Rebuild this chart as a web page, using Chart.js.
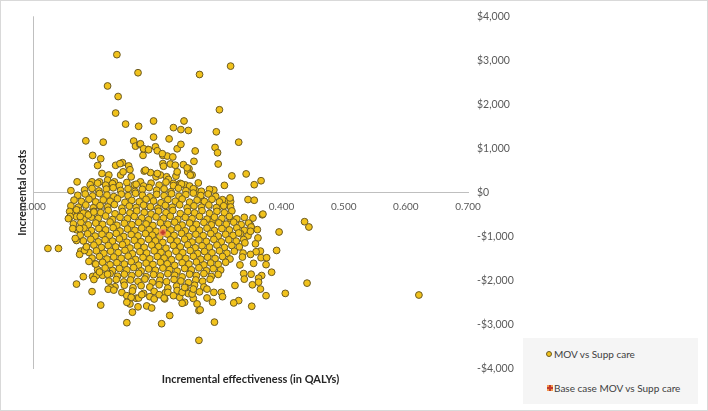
<!DOCTYPE html>
<html lang="en">
<head>
<meta charset="UTF-8">
<title>Incremental cost-effectiveness plane</title>
<script src="https://cdn.jsdelivr.net/npm/chart.js@4.4.1/dist/chart.umd.min.js"></script>
<style>
  html, body { margin: 0; padding: 0; background: #fff; }
  #frame { position: relative; width: 708px; height: 411px; box-sizing: border-box; border: 1px solid #d9d9d9; background: #fff; }
  #chart { position: absolute; left: 0; top: 0; }
  #legend { position: absolute; left: 522px; top: 337px; width: 175px; height: 66px; background: #f5f5f5;
            font: 10px Lato, sans-serif; color: #404040; }
  #legend .item { position: absolute; left: 0; height: 14px; line-height: 14px; white-space: nowrap; }
  #legend .mark { position: absolute; top: 4px; width: 6px; height: 6px; box-sizing: border-box; }
  #legend .text { position: absolute; left: 31px; top: 0; }
</style>
</head>
<body>
<div id="frame">
  <canvas id="chart" width="706" height="409"></canvas>
  <div id="legend"></div>
</div>
<script>
// axis ticks
const xTickVals = [0, 0.1, 0.2, 0.3, 0.4, 0.5, 0.6, 0.7];
const yTickVals = [-4000, -3000, -2000, -1000, 0, 1000, 2000, 3000, 4000];

const seriesNames = ["MOV vs Supp care", "Base case MOV vs Supp care"];

// PSA iterations: [incremental QALYs, incremental cost]
const upperPts = [
  [0.135,3130],[0.169,2720],[0.268,2680],[0.318,2870],[0.120,2420],[0.137,2180],[0.133,1805],[0.300,1880],
  [0.149,1555],[0.170,1505],[0.194,1625],[0.243,1625],[0.226,1475],[0.238,1430],[0.250,1410],[0.295,1380],
  [0.331,1145],[0.194,1260],[0.219,1220],[0.085,1175],[0.113,1145],[0.162,1170],[0.165,1055],[0.172,1095],
  [0.185,980],[0.179,965],[0.197,1040],[0.200,950],[0.232,995],[0.238,1095],[0.261,945],[0.293,1025],
  [0.297,905],[0.298,650],[0.320,380],[0.308,165],[0.291,60],[0.096,845],[0.109,770],[0.104,615],
  [0.111,435],[0.122,400],[0.133,620],[0.144,680],[0.154,605],[0.177,845],[0.209,845],[0.216,830],
  [0.225,810],[0.209,660],[0.221,650],[0.242,635],[0.251,545],[0.259,710],[0.071,245],[0.061,45],
  [0.095,245],[0.107,245],[0.118,150],[0.131,245],[0.141,400],[0.158,360],[0.179,490],[0.163,175],
  [0.173,245],[0.189,455],[0.198,360],[0.205,400],[0.215,360],[0.230,375],[0.237,210],[0.249,470],
  [0.256,400],[0.245,175],[0.261,60],[0.343,425],[0.356,180],[0.367,270],
  [0.120,285],[0.140,658],[0.145,472],[0.156,520],[0.173,1108],[0.178,996],[0.186,973],[0.208,884],
  [0.210,600],[0.229,622],[0.232,472],[0.248,562],[0.253,398],[0.181,510],[0.200,434],[0.218,300],
  [0.226,209],[0.267,-52],[0.272,-165],[0.288,-636],[0.299,-315],[0.310,-202],[0.318,-202],[0.317,-577],
  [0.317,-120],[0.305,-160],[0.346,-157],[0.356,-172],[0.354,-577],[0.369,-502],[0.350,-742],[0.370,-487]
];

const corePts = [
  [0.092,180],[0.104,215],[0.117,170],[0.128,205],[0.139,160],[0.151,230],[0.166,190],[0.178,150],[0.190,215],[0.203,170],[0.214,240],[0.226,160],[0.239,195],[0.252,150],[0.266,220],
  [0.083,60],[0.095,95],[0.106,40],[0.118,80],[0.129,110],[0.141,50],[0.153,90],[0.164,30],[0.176,75],[0.187,115],[0.199,55],[0.211,85],[0.222,20],[0.234,100],[0.246,45],[0.258,90],[0.271,30],[0.284,75],
  [0.072,-60],[0.084,-30],[0.096,-75],[0.107,-20],[0.119,-55],[0.130,-90],[0.142,-35],[0.153,-70],[0.165,-15],[0.176,-60],[0.188,-95],[0.199,-40],[0.211,-70],[0.223,-25],[0.235,-80],[0.246,-45],[0.258,-10],[0.270,-65],[0.282,-30],[0.294,-85],
  [0.066,-170],[0.078,-200],[0.090,-150],[0.101,-210],[0.113,-165],[0.124,-195],[0.136,-140],[0.148,-220],[0.159,-175],[0.171,-205],[0.182,-150],[0.194,-190],[0.206,-230],[0.217,-160],[0.229,-195],[0.240,-145],[0.252,-215],[0.264,-170],[0.276,-200],[0.288,-150],[0.300,-210],
  [0.061,-300],[0.073,-330],[0.085,-280],[0.097,-345],[0.108,-295],[0.120,-325],[0.131,-270],[0.143,-350],[0.155,-305],[0.166,-335],[0.178,-285],[0.189,-320],[0.201,-355],[0.213,-290],[0.224,-330],[0.236,-275],[0.248,-345],[0.259,-300],[0.271,-330],[0.283,-280],[0.295,-340],[0.307,-300],[0.318,-325],
  [0.062,-445],[0.074,-410],[0.086,-470],[0.098,-425],[0.109,-455],[0.121,-400],[0.132,-480],[0.144,-430],[0.156,-460],[0.167,-415],[0.179,-450],[0.190,-485],[0.202,-420],[0.214,-455],[0.225,-405],[0.237,-475],[0.249,-430],[0.260,-460],[0.272,-410],[0.284,-470],[0.296,-425],[0.308,-455],[0.320,-415],
  [0.058,-580],[0.070,-545],[0.082,-600],[0.094,-555],[0.105,-585],[0.117,-530],[0.128,-610],[0.140,-560],[0.152,-590],[0.163,-540],[0.175,-575],[0.186,-615],[0.198,-550],[0.210,-580],[0.221,-535],[0.233,-605],[0.245,-560],[0.256,-590],[0.268,-540],[0.280,-600],[0.292,-555],[0.304,-585],[0.316,-540],[0.328,-595],[0.340,-560],
  [0.065,-710],[0.077,-680],[0.089,-730],[0.101,-690],[0.112,-720],[0.124,-665],[0.135,-740],[0.147,-695],[0.159,-725],[0.170,-675],[0.182,-710],[0.193,-745],[0.205,-685],[0.217,-715],[0.228,-670],[0.240,-735],[0.252,-690],[0.263,-720],[0.275,-675],[0.287,-730],[0.299,-685],[0.311,-715],[0.323,-670],[0.335,-725],[0.347,-690],
  [0.070,-840],[0.082,-805],[0.094,-860],[0.106,-815],[0.117,-845],[0.129,-795],[0.140,-870],[0.152,-825],[0.164,-855],[0.175,-805],[0.187,-840],[0.198,-875],[0.210,-815],[0.222,-845],[0.233,-800],[0.245,-865],[0.257,-820],[0.268,-850],[0.280,-805],[0.292,-860],[0.304,-815],[0.316,-845],[0.328,-800],[0.340,-855],[0.352,-820],
  [0.076,-965],[0.088,-935],[0.100,-985],[0.111,-945],[0.123,-975],[0.134,-925],[0.146,-995],[0.158,-950],[0.169,-980],[0.181,-930],[0.192,-965],[0.204,-1000],[0.216,-940],[0.227,-970],[0.239,-925],[0.251,-990],[0.262,-945],[0.274,-975],[0.286,-930],[0.298,-985],[0.310,-945],[0.322,-970],[0.334,-930],[0.346,-980],
  [0.081,-1095],[0.093,-1060],[0.105,-1115],[0.116,-1070],[0.128,-1100],[0.139,-1050],[0.151,-1125],[0.163,-1080],[0.174,-1110],[0.186,-1060],[0.197,-1095],[0.209,-1130],[0.221,-1070],[0.232,-1100],[0.244,-1055],[0.256,-1120],[0.267,-1075],[0.279,-1105],[0.291,-1060],[0.303,-1115],[0.315,-1070],[0.327,-1100],[0.339,-1065],
  [0.086,-1225],[0.098,-1190],[0.110,-1245],[0.121,-1200],[0.133,-1230],[0.144,-1180],[0.156,-1255],[0.168,-1210],[0.179,-1240],[0.191,-1190],[0.202,-1225],[0.214,-1260],[0.226,-1200],[0.237,-1230],[0.249,-1185],[0.261,-1250],[0.272,-1205],[0.284,-1235],[0.296,-1190],[0.308,-1245],[0.320,-1200],[0.332,-1230],
  [0.090,-1355],[0.102,-1320],[0.114,-1375],[0.125,-1330],[0.137,-1360],[0.148,-1310],[0.160,-1385],[0.172,-1340],[0.183,-1370],[0.195,-1320],[0.206,-1355],[0.218,-1390],[0.230,-1330],[0.241,-1360],[0.253,-1315],[0.265,-1380],[0.276,-1335],[0.288,-1365],[0.300,-1320],[0.312,-1375],[0.324,-1330],
  [0.095,-1485],[0.107,-1450],[0.119,-1505],[0.130,-1460],[0.142,-1490],[0.153,-1440],[0.165,-1515],[0.177,-1470],[0.188,-1500],[0.200,-1450],[0.211,-1485],[0.223,-1520],[0.235,-1460],[0.246,-1490],[0.258,-1445],[0.270,-1510],[0.281,-1465],[0.293,-1495],[0.305,-1450],[0.317,-1505],
  [0.100,-1615],[0.112,-1580],[0.124,-1635],[0.135,-1590],[0.147,-1620],[0.158,-1570],[0.170,-1645],[0.182,-1600],[0.193,-1630],[0.205,-1580],[0.216,-1615],[0.228,-1650],[0.240,-1590],[0.251,-1620],[0.263,-1575],[0.275,-1640],[0.286,-1595],[0.298,-1625],[0.310,-1580],
  [0.104,-1745],[0.116,-1710],[0.128,-1765],[0.139,-1720],[0.151,-1750],[0.162,-1700],[0.174,-1775],[0.186,-1730],[0.197,-1760],[0.209,-1710],[0.220,-1745],[0.232,-1780],[0.244,-1720],[0.255,-1750],[0.267,-1705],[0.279,-1770],[0.290,-1725],[0.302,-1755],
  [0.112,-1875],[0.124,-1840],[0.136,-1895],[0.147,-1850],[0.159,-1880],[0.170,-1830],[0.182,-1905],[0.194,-1860],[0.205,-1890],[0.217,-1840],[0.228,-1875],[0.240,-1910],[0.252,-1850],[0.263,-1880],[0.275,-1835],[0.287,-1900],[0.298,-1855],
  [0.122,-2005],[0.134,-1970],[0.146,-2025],[0.157,-1980],[0.169,-2010],[0.180,-1960],[0.192,-2035],[0.204,-1990],[0.215,-2020],[0.227,-1970],[0.238,-2005],[0.250,-2040],[0.262,-1980],[0.273,-2010],[0.285,-1965],
  [0.132,-2135],[0.147,-2100],[0.161,-2155],[0.174,-2110],[0.188,-2140],[0.203,-2090],[0.217,-2165],[0.231,-2120],[0.246,-2150],[0.260,-2100],[0.275,-2140],
  [0.143,-2265],[0.160,-2230],[0.178,-2285],[0.195,-2240],[0.213,-2270],[0.232,-2220],[0.250,-2290],[0.268,-2250],
  [0.166,-2395],[0.188,-2360],[0.212,-2410],[0.236,-2375],[0.258,-2400]
];

const rightPts = [
  [0.437,-659],[0.444,-779],[0.351,-779],[0.361,-839],[0.350,-876],[0.331,-914],[0.396,-892],[0.362,-1027],
  [0.341,-1139],[0.358,-1161],[0.392,-1311],[0.366,-1326],[0.359,-1341],[0.338,-1371],[0.350,-1401],
  [0.367,-1476],[0.376,-1476],[0.337,-1461],[0.355,-1603],[0.333,-1640],[0.375,-1633],[0.384,-1805],
  [0.339,-1835],[0.351,-1850],[0.368,-1880],[0.363,-1940],[0.340,-1962],[0.363,-2030],[0.441,-2052],
  [0.353,-2090],[0.325,-2105],[0.366,-2187],[0.406,-2285],[0.375,-2337],[0.621,-2322],[0.331,-2449],
  [0.323,-2501],[0.352,-2577]
];

const lowerPts = [
  [0.024,-1265],[0.041,-1265],[0.070,-2074],[0.081,-1905],[0.095,-2245],[0.109,-2550],[0.151,-2950],
  [0.207,-2973],[0.220,-2786],[0.160,-2712],[0.183,-2570],[0.191,-2615],[0.169,-2590],[0.156,-2524],
  [0.267,-3350],[0.292,-2937],[0.267,-2674],[0.244,-2487],[0.240,-2509],[0.289,-2487],[0.280,-2389],
  [0.059,-427],[0.060,-540],[0.057,-590],[0.064,-816],[0.075,-816],[0.070,-1085],[0.068,-1040],
  [0.077,-1326],[0.075,-1400],[0.083,-1310],[0.086,-1230],[0.090,-1560],[0.101,-1620],[0.096,-1900],
  [0.102,-1880],[0.098,-1970],[0.107,-1800],[0.120,-1850],[0.125,-2160],[0.121,-2190],[0.130,-2210],
  [0.151,-2337],[0.158,-2375],[0.151,-2487],[0.170,-2390],[0.175,-2315],[0.195,-2412],[0.203,-2315],
  [0.211,-2390],[0.217,-2262],[0.226,-2337],[0.240,-2262],[0.244,-2150],[0.256,-2300],[0.258,-2187],
  [0.264,-2524],[0.269,-2659],[0.280,-2187],[0.291,-2262],[0.303,-2262],[0.305,-2360],
  [0.070,-390],[0.081,-465],[0.076,-540],[0.089,-505],[0.098,-440]
];

const basePt = [[0.209, -905]];

const toXY = arr => arr.map(p => ({x: p[0], y: p[1]}));
const movPoints = toXY(upperPts.concat(corePts, rightPts, lowerPts));

function plusSquare(size, fill, stroke) {
  const c = document.createElement('canvas');
  c.width = size; c.height = size;
  const g = c.getContext('2d');
  g.fillStyle = fill;
  g.fillRect(0, 0, size, size);
  g.strokeStyle = stroke;
  g.lineWidth = 2;
  g.beginPath();
  g.moveTo(size / 2, 1); g.lineTo(size / 2, size - 1);
  g.moveTo(1, size / 2); g.lineTo(size - 1, size / 2);
  g.stroke();
  return c;
}

const FONT = "Lato, 'Liberation Sans', sans-serif";
const axisColor = '#bfbfbf';
const tickColor = '#595959';

function money(v) {
  const s = '$' + Math.abs(v).toLocaleString('en-US');
  return v < 0 ? '-' + s : s;
}

const chart = new Chart(document.getElementById('chart'), {
  type: 'scatter',
  data: {
    datasets: [
      {
        label: seriesNames[0],
        data: movPoints,
        backgroundColor: '#f1c21b',
        borderColor: '#6b5a24',
        borderWidth: 1,
        pointRadius: 3.4,
        order: 1
      },
      {
        label: seriesNames[1],
        data: toXY(basePt),
        pointStyle: plusSquare(7, '#f39a4e', '#c0392b'),
        backgroundColor: '#f39a4e',
        borderColor: '#c0392b',
        order: 0
      }
    ]
  },
  options: {
    responsive: false,
    animation: false,
    events: [],
    layout: { padding: { left: 10, right: 189, top: 12.3, bottom: 0 } },
    plugins: { legend: { display: false }, tooltip: { enabled: false } },
    scales: {
      x: {
        type: 'linear',
        position: { y: 0 },
        min: 0, max: 0.7,
        afterBuildTicks: s => { s.ticks = xTickVals.map(v => ({value: v})); },
        ticks: {
          callback: v => Number(v).toFixed(3),
          color: tickColor, font: { family: FONT, size: 10 }, padding: 8,
          maxRotation: 0, autoSkip: false
        },
        grid: {
          drawTicks: false,
          color: c => (c.tick && c.tick.value === 0) ? axisColor : 'rgba(0,0,0,0)'
        },
        border: { display: true, color: axisColor, width: 1 }
      },
      y: {
        type: 'linear',
        position: 'right',
        min: -4000, max: 4000,
        afterBuildTicks: s => { s.ticks = yTickVals.map(v => ({value: v})); },
        afterFit: s => { s.width = 50; },
        ticks: {
          callback: v => money(v),
          color: tickColor, font: { family: FONT, size: 10.5 }, padding: 9
        },
        grid: { display: false, drawTicks: false },
        border: { display: false }
      },
      yTitle: {
        type: 'linear',
        axis: 'y',
        position: 'left',
        afterFit: s => { s.width = 22; },
        ticks: { display: false },
        grid: { display: false, drawTicks: false },
        border: { display: false },
        title: {
          display: true, text: 'Incremental costs', color: '#262626',
          font: { family: FONT, size: 11, weight: 'bold' }, padding: { top: 5, bottom: 0 }
        }
      },
      xTitle: {
        type: 'linear',
        axis: 'x',
        position: 'bottom',
        afterFit: s => { s.height = 41; },
        ticks: { display: false },
        grid: { display: false, drawTicks: false },
        border: { display: false },
        title: {
          display: true, text: 'Incremental effectiveness (in QALYs)', color: '#262626',
          font: { family: FONT, size: 11, weight: 'bold' }, padding: { top: 4, bottom: 24 }
        }
      }
    }
  }
});

// legend box (bottom right), built from the chart's datasets
const legendEl = document.getElementById('legend');
const itemTops = [9.3, 43.3];
chart.data.datasets.forEach((ds, i) => {
  const item = document.createElement('div');
  item.className = 'item';
  item.style.top = itemTops[i] + 'px';
  const mark = document.createElement('span');
  mark.className = 'mark';
  if (i === 0) {
    mark.style.left = '23px';
    mark.style.borderRadius = '50%';
    mark.style.background = ds.backgroundColor;
    mark.style.border = '1px solid ' + ds.borderColor;
  } else {
    mark.style.left = '24px';
    mark.style.background = ds.backgroundColor;
    mark.style.backgroundImage = 'linear-gradient(' + ds.borderColor + ',' + ds.borderColor + '),linear-gradient(' + ds.borderColor + ',' + ds.borderColor + ')';
    mark.style.backgroundSize = '2px 100%, 100% 2px';
    mark.style.backgroundPosition = 'center, center';
    mark.style.backgroundRepeat = 'no-repeat';
  }
  const text = document.createElement('span');
  text.className = 'text';
  text.textContent = ds.label;
  item.appendChild(mark);
  item.appendChild(text);
  legendEl.appendChild(item);
});
</script>
</body>
</html>
